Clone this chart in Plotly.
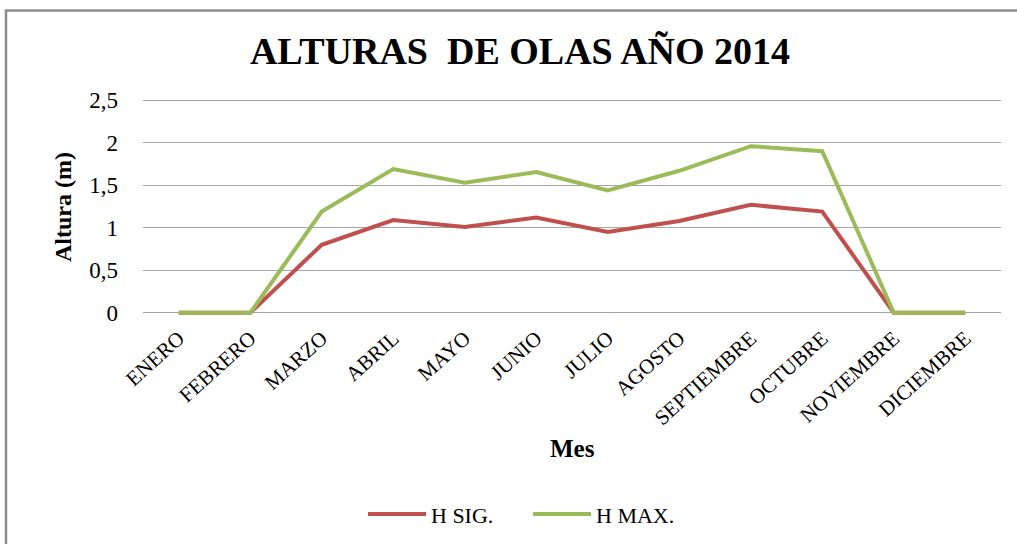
import plotly.graph_objects as go

meses = ["ENERO", "FEBRERO", "MARZO", "ABRIL", "MAYO", "JUNIO", "JULIO",
         "AGOSTO", "SEPTIEMBRE", "OCTUBRE", "NOVIEMBRE", "DICIEMBRE"]
h_sig = [0, 0, 0.80, 1.09, 1.01, 1.12, 0.95, 1.08, 1.27, 1.19, 0, 0]
h_max = [0, 0, 1.19, 1.69, 1.53, 1.655, 1.44, 1.67, 1.96, 1.90, 0, 0]
y_ticks = [0, 0.5, 1, 1.5, 2, 2.5]

W_FIG, H_FIG = 1017, 544
L, R = 143, 1001
Y0PX, Y25PX = 313, 100
ppu = (Y0PX - Y25PX) / 2.5
ymin, ymax = -0.05, 2.55
top_px = Y0PX - ymax * ppu
bot_px = Y0PX - ymin * ppu
PW = R - L
PH = bot_px - top_px

def px(x):
    return (x - L) / PW

def py(y):
    return (bot_px - y) / PH

FONT = "Liberation Serif, Times New Roman, serif"

fig = go.Figure()
fig.add_trace(go.Scatter(x=meses, y=h_sig, mode="lines", name="H SIG.",
                         line=dict(color="#C0504D", width=4)))
fig.add_trace(go.Scatter(x=meses, y=h_max, mode="lines", name="H MAX.",
                         line=dict(color="#9BBB59", width=4)))

fig.update_layout(
    width=W_FIG, height=H_FIG,
    margin=dict(l=L, r=W_FIG - R, t=top_px, b=H_FIG - bot_px, pad=0, autoexpand=False),
    paper_bgcolor="white", plot_bgcolor="white",
    separators=",.",
    font=dict(family=FONT, color="black", size=18),
    title=dict(text="<b>ALTURAS  DE OLAS AÑO 2014</b>", x=520 / W_FIG, xanchor="center",
               y=1 - 51 / H_FIG, yanchor="middle",
               font=dict(family=FONT, size=38, color="black")),
    xaxis=dict(type="category", range=[-0.5, 11.5], tickangle=-42,
               tickfont=dict(family=FONT, size=21, color="black"),
               showgrid=False, showline=False, ticks="", automargin=False,
               ticklabelstandoff=4),
    yaxis=dict(range=[ymin, ymax], tickvals=y_ticks,
               tickfont=dict(family=FONT, size=23, color="black"),
               showgrid=True, gridcolor="#A6A6A6", gridwidth=1.3,
               zeroline=False, showline=False, ticks="", automargin=False,
               ticklabelstandoff=24),
    showlegend=True,
    legend=dict(orientation="h", x=px(363), xanchor="left", y=py(515), yanchor="middle",
                font=dict(family=FONT, size=22, color="black"),
                bgcolor="rgba(0,0,0,0)", itemwidth=58, entrywidth=92),
)

fig.add_annotation(text="<b>Altura (m)</b>", textangle=-90, xref="paper", yref="paper",
                   x=px(63), y=py(207), xanchor="center", yanchor="middle", showarrow=False,
                   font=dict(family=FONT, size=24, color="black"))
fig.add_annotation(text="<b>Mes</b>", xref="paper", yref="paper",
                   x=px(572), y=py(449), xanchor="center", yanchor="middle", showarrow=False,
                   font=dict(family=FONT, size=25, color="black"))

fig.add_shape(type="rect", xref="paper", yref="paper",
              x0=px(6), x1=px(1030), y0=py(560), y1=py(10),
              line=dict(color="#8C8C8C", width=2.5), fillcolor="rgba(0,0,0,0)", layer="below")

fig.write_html("out.html", config={"displayModeBar": False},
               post_script="document.body.style.margin='0';document.body.style.overflow='hidden';")
